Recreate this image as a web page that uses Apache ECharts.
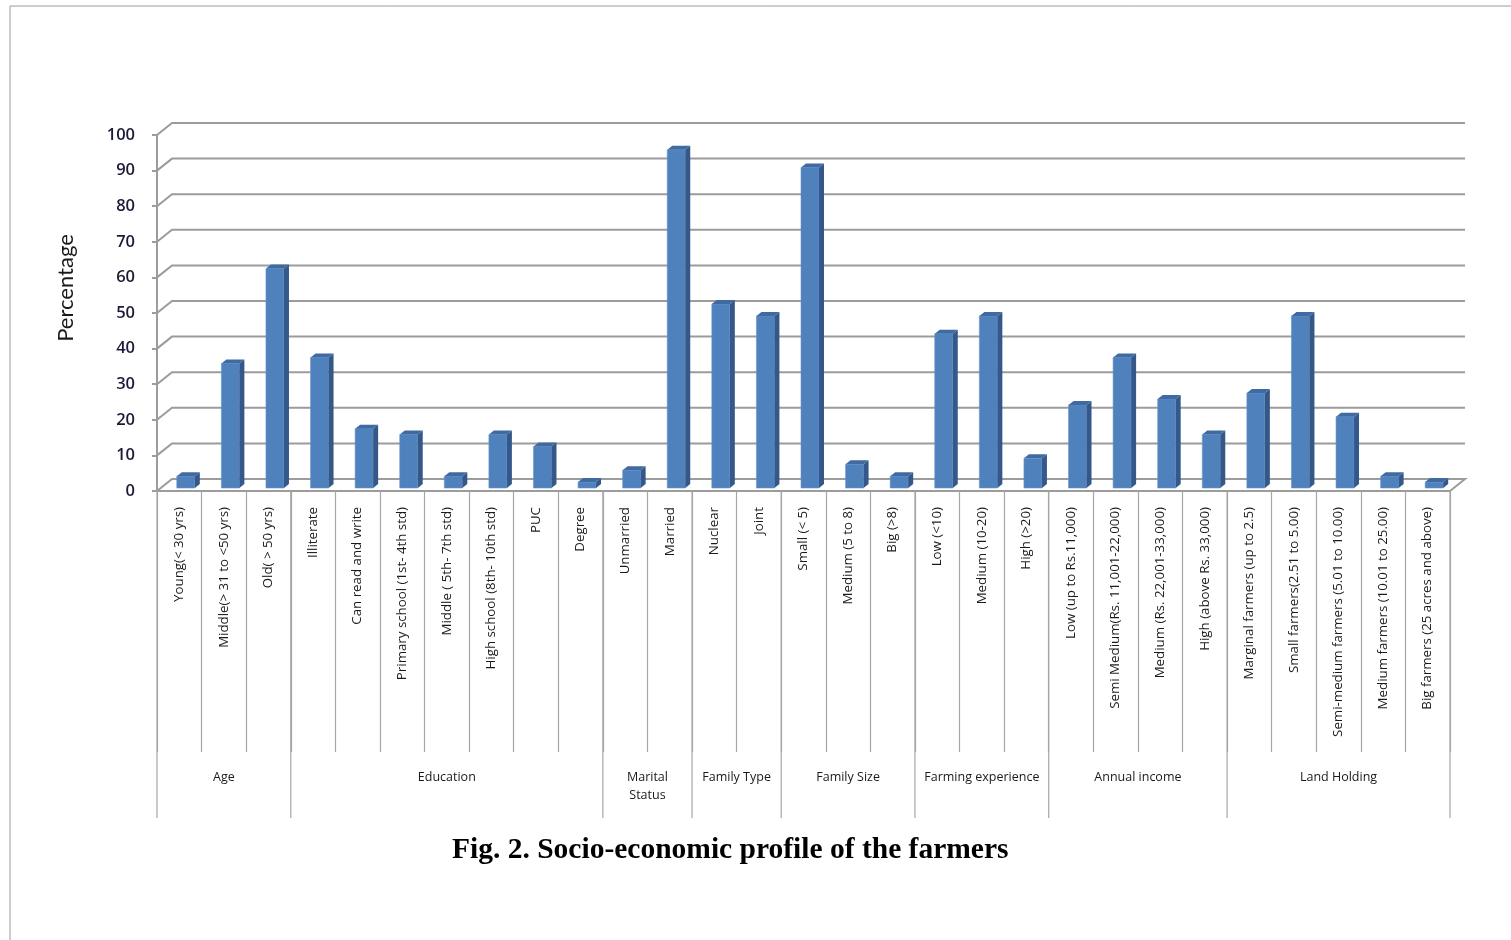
<!DOCTYPE html>
<html>
<head>
<meta charset="utf-8">
<script src="https://cdn.jsdelivr.net/npm/echarts@6.0.0/dist/echarts.min.js"></script>
<style>
  html, body { margin: 0; padding: 0; background: #ffffff; }
  #main { width: 1511px; height: 940px; }
</style>
</head>
<body>
<div id="main"></div>
<script>
// Socio-economic profile of the farmers (percentage of respondents)
const categories = [
  'Young(< 30 yrs)', 'Middle(> 31 to <50 yrs)', 'Old( > 50 yrs)',
  'Illiterate', 'Can read and write', 'Primary school (1st- 4th std)', 'Middle ( 5th- 7th std)',
  'High school (8th- 10th std)', 'PUC', 'Degree',
  'Unmarried', 'Married',
  'Nuclear', 'Joint',
  'Small (< 5)', 'Medium (5 to 8)', 'Big (>8)',
  'Low (<10)', 'Medium (10-20)', 'High (>20)',
  'Low (up to Rs.11,000)', 'Semi Medium(Rs. 11,001-22,000)', 'Medium (Rs. 22,001-33,000)', 'High (above Rs. 33,000)',
  'Marginal farmers (up to 2.5)', 'Small farmers(2.51 to 5.00)', 'Semi-medium farmers (5.01 to 10.00)',
  'Medium farmers (10.01 to 25.00)', 'Big farmers (25 acres and above)'
];

const percentages = [
  3.33, 35.00, 61.67,
  36.67, 16.67, 15.00, 3.33, 15.00, 11.67, 1.67,
  5.00, 95.00,
  51.67, 48.33,
  90.00, 6.67, 3.33,
  43.33, 48.33, 8.33,
  23.33, 36.67, 25.00, 15.00,
  26.67, 48.33, 20.00, 3.33, 1.67
];

const groupNames = ['Age', 'Education', 'Marital\nStatus', 'Family Type', 'Family Size',
  'Farming experience', 'Annual income', 'Land Holding'];
const groupSizes = [3, 7, 2, 2, 3, 3, 4, 5];

const yTicks = [0, 10, 20, 30, 40, 50, 60, 70, 80, 90, 100];

// pseudo-3D depth of the plot box (back wall offset)
const DEPTH_X = 15, DEPTH_Y = 12;

// group spans as [firstIndex, lastIndex, groupIndex]
const groupSpans = [];
let start = 0;
groupSizes.forEach((n, gi) => { groupSpans.push([start, start + n - 1, gi]); start += n; });

const chart = echarts.init(document.getElementById('main'));

function renderWall(params, api) {
  const v = api.value(1);
  const cs = params.coordSys;
  const y = api.coord([0, v])[1];
  const x0 = cs.x, x1 = cs.x + cs.width;
  const pts = [[x0, y], [x0 + DEPTH_X, y - DEPTH_Y], [x1 + DEPTH_X, y - DEPTH_Y]];
  if (v === 0) pts.push([x1, y]);
  return {
    type: 'polyline',
    shape: { points: pts },
    style: { stroke: '#9c9c9c', lineWidth: 2, fill: null }
  };
}

function renderBar(params, api) {
  const i = api.value(0), v = api.value(1);
  const base = api.coord([i, 0]);
  const top = api.coord([i, v]);
  const w = 18, dx = 5, dy = 4;
  const xl = base[0] - 2.5, xr = xl + w;
  const yb = base[1] - 3, yt = top[1] - 3;
  return {
    type: 'group',
    children: [
      { type: 'rect', shape: { x: xl, y: yt, width: w, height: yb - yt },
        style: { fill: '#4f81bd', stroke: '#6a95cc', lineWidth: 0.6 } },
      { type: 'polygon', shape: { points: [[xr, yb], [xr + dx, yb - dy], [xr + dx, yt - dy], [xr, yt]] },
        style: { fill: '#34588a' } },
      { type: 'polygon', shape: { points: [[xl, yt], [xl + dx, yt - dy], [xr + dx, yt - dy], [xr, yt]] },
        style: { fill: '#3f6aa2' } }
    ]
  };
}

function renderGroup(params, api) {
  const s = api.value(0), e = api.value(1), gi = api.value(2);
  const bw = api.size([1, 0])[0];
  const a = api.coord([s, 0]), b = api.coord([e, 0]);
  const xl = a[0] - bw / 2, xr = b[0] + bw / 2, y0 = a[1];
  const children = [
    { type: 'line', shape: { x1: xl, y1: y0, x2: xl, y2: 818 },
      style: { stroke: '#a6a6a6', lineWidth: 1.2 } },
    { type: 'text', x: (xl + xr) / 2, y: 768,
      style: { text: groupNames[gi], align: 'center', verticalAlign: 'top',
        fontFamily: 'Open Sans', fontSize: 12.5, lineHeight: 18, fill: '#1a1a1a' } }
  ];
  if (gi === groupNames.length - 1) {
    children.push({ type: 'line', shape: { x1: xr, y1: y0, x2: xr, y2: 818 },
      style: { stroke: '#a6a6a6', lineWidth: 1.2 } });
  }
  return { type: 'group', children };
}

chart.setOption({
  animation: false,
  backgroundColor: '#ffffff',
  title: {
    text: 'Fig. 2. Socio-economic profile of the farmers',
    left: 447, top: 830,
    textStyle: { fontFamily: 'Liberation Serif', fontWeight: 'bold', fontSize: 29.5, color: '#000000' }
  },
  grid: { left: 157, right: 61, top: 135, bottom: 449, containLabel: false },
  xAxis: {
    type: 'category',
    data: categories,
    boundaryGap: true,
    axisLine: { show: true, lineStyle: { color: '#9c9c9c', width: 2 } },
    axisTick: { show: true, length: 261, interval: 0, lineStyle: { color: '#a6a6a6', width: 1.2 } },
    axisLabel: { rotate: 90, interval: 0, margin: 16, fontFamily: 'Open Sans', fontSize: 13.3, color: '#1a1a1a' },
    splitLine: { show: false }
  },
  yAxis: {
    type: 'value',
    min: 0, max: 100, interval: 10,
    axisLine: { show: true, lineStyle: { color: '#9c9c9c', width: 2 } },
    axisTick: { show: true, length: 5, lineStyle: { color: '#9c9c9c', width: 2 } },
    axisLabel: { margin: 22, fontFamily: 'Open Sans', fontWeight: 600, fontSize: 16.5, color: '#1b1b38' },
    splitLine: { show: false }
  },
  graphic: [
    { type: 'polyline', silent: true, shape: { points: [[10, 940], [10, 6], [1511, 6]] },
      style: { stroke: '#9a9a9a', lineWidth: 1, fill: null } },
    { type: 'text', x: 66, y: 288, rotation: Math.PI / 2,
      style: { text: 'Percentage', align: 'center', verticalAlign: 'middle',
        fontFamily: 'Lato', fontSize: 22, fill: '#1a1a1a' } }
  ],
  series: [
    { type: 'custom', name: 'wall', silent: true, z: 1, clip: false,
      renderItem: renderWall, data: yTicks.map(v => [0, v]) },
    { type: 'custom', name: 'Percentage', z: 3, clip: false,
      renderItem: renderBar, data: percentages.map((v, i) => [i, v]) },
    { type: 'custom', name: 'groups', silent: true, z: 2, clip: false,
      renderItem: renderGroup, data: groupSpans }
  ]
});
</script>
</body>
</html>
